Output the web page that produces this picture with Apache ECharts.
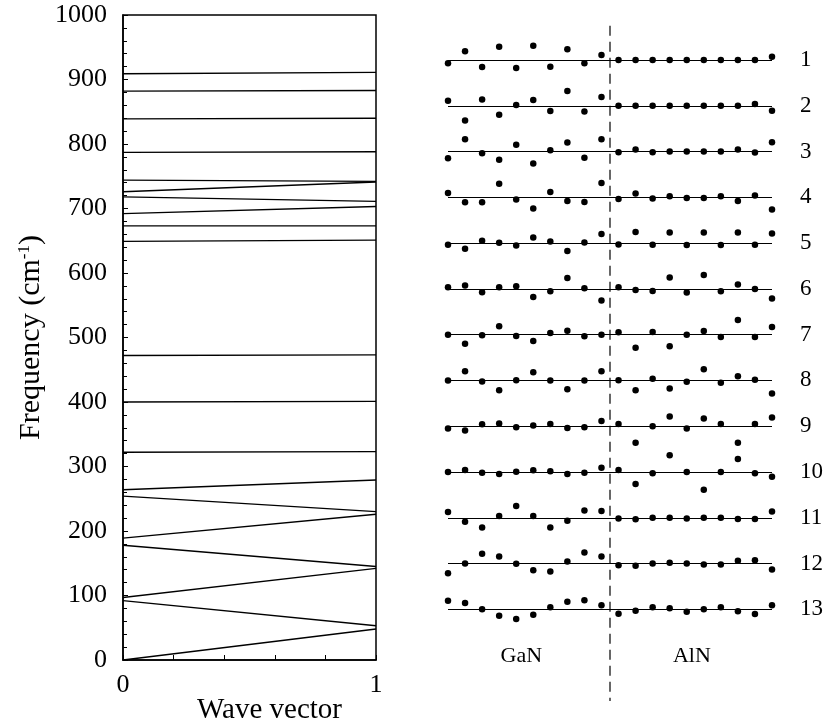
<!DOCTYPE html>
<html>
<head>
<meta charset="UTF-8"/>
<title>GaN/AlN superlattice phonon modes</title>
<script src="https://cdn.jsdelivr.net/npm/echarts@6/dist/echarts.min.js"></script>
<style>
html, body { margin: 0; padding: 0; background: #fff; }
#main { width: 830px; height: 725px; }
</style>
</head>
<body>
<div id="main"></div>
<script>
// dispersion: frequency (cm-1) of each branch at wave vector 0 and at 1
var waveVector = [0, 1];
var branchAt0 = [0, 92, 97, 178, 189, 254, 264, 322, 400, 472, 649, 673, 692, 718, 726, 744, 787, 839, 882, 909];
var branchAt1 = [48, 53, 142, 145, 226, 230, 279, 323, 401, 473, 651, 673, 703, 711, 741, 742, 788, 840, 883, 911];
var waveTickLabels = ['0', '1'];

// displacement patterns, modes 1..13, 10 atoms in each layer (up = positive)
var modeNames = ['1', '2', '3', '4', '5', '6', '7', '8', '9', '10', '11', '12', '13'];
var layerNames = ['GaN', 'AlN'];
var ganAmp = [
  [-3.3, 8.7, -7, 13.3, -8, 14.3, -6.7, 10.7, -3.3, 5],
  [5, -14.7, 6.3, -9, 0.7, 5.7, -5.3, 14.7, -5.7, 8.7],
  [-6.7, 12.3, -1.7, -8.3, 6.7, -12, 1.3, 9, -6.3, 12.3],
  [4.3, -5, -5, 13.7, -2.3, -11.3, 5.3, -3.7, -4.7, 14.3],
  [-1.7, -5.7, 2.3, 0.3, -2.3, 5.7, 1.7, -8, 0.7, 9],
  [1.7, 3.3, -3.3, 1.7, 2.7, -8, -2.3, 11, 0.7, -11.7],
  [0, -9, -0.7, 8.3, -1.3, -6.3, 1.7, 4, -1.7, 0],
  [0, 9.3, -1, -9.7, 0.3, 8.3, 0, -8.7, 0, 9.3],
  [-2.3, -4.3, 2, 2.7, -1, 0.7, 2.3, -1.7, -1, 5.3],
  [0, 2, -0.7, -2, 0.3, 1.7, 0.7, -2, -0.7, 4.3],
  [5.7, -4, -9.7, 1.7, 11.7, 1.7, -9.7, -3, 7.3, 6.7],
  [-9.7, 0, 9.7, 7, -0.3, -6.7, -8, 2, 11, 7],
  [8.7, 6.3, 0, -6.3, -9.7, -5.3, 2, 7.7, 9, 4]
];
var alnAmp = [
  [0, 0, 0, 0, 0, 0, 0, 0, 0, 3.3],
  [0, 0, 0, 0, 0, 0, 0, 0, 1.7, -5],
  [-0.7, 2, -0.7, 0, 0, 0, 0, 2, -1, 9.3],
  [-1.7, 3.7, -1.3, 1, -0.7, -0.7, 1, -3.7, 1.7, -12.3],
  [-1.3, 11, -1.7, 10.7, -2, 10.7, -2, 10.7, -1.7, 9.7],
  [1.7, -1, -2, 11.3, -3.7, 14, -2.3, 4.3, 0, -9.7],
  [2.3, -13, 2.7, -11.7, 0, 3.7, -2.3, 14.7, -2.3, 7.7],
  [0.3, -9.7, 1.7, -8, -1.3, 11.3, -2.3, 4.3, 0.7, -13],
  [2.2, -16.5, 0, 9.8, -2.2, 7.8, 2.2, -16.5, 2.2, 8.8],
  [2, -12, -1.3, 16.7, 0, -17.7, 0, 13, -1.3, -4.7],
  [-0.7, -1.5, 0, 0, -0.7, 0, 0, -1.3, -1.3, 6.3],
  [-1.7, -2.3, 0, 0.7, 0, -1, -1, 2.7, 3.3, -6],
  [-4.5, -1.5, 2, 1, -2.3, 0, 2, -2, -4.7, 4]
];

var AMP_TO_ROW = 1 / 45.8;
var serif = '"Liberation Serif", "DejaVu Serif", serif';
var ink = '#000';

var chart = echarts.init(document.getElementById('main'));

var series = [];
branchAt0.forEach(function (f0, i) {
  series.push({
    type: 'line', xAxisIndex: 0, yAxisIndex: 0,
    data: [[waveVector[0], f0], [waveVector[1], branchAt1[i]]],
    symbol: 'none', silent: true,
    lineStyle: { color: ink, width: 1.4 }
  });
});

var dots = [];
var nAtoms = ganAmp[0].length;
modeNames.forEach(function (name, r) {
  var amps = ganAmp[r].concat(alnAmp[r]);
  amps.forEach(function (a, i) {
    dots.push([i, (r + 1) - a * AMP_TO_ROW]);
  });
});
var lastAtom = 2 * nAtoms - 1;

series.push({
  type: 'scatter', xAxisIndex: 1, yAxisIndex: 1,
  data: dots, symbolSize: 6.5, clip: false, silent: true,
  itemStyle: { color: ink, opacity: 1 },
  markLine: {
    silent: true, symbol: 'none', animation: false,
    label: { show: false },
    lineStyle: { color: ink, width: 1, type: 'solid', opacity: 1 },
    data: modeNames.map(function (n, r) { return { yAxis: r + 1 }; })
  }
});

// GaN | AlN divider
series.push({
  type: 'line', xAxisIndex: 1, yAxisIndex: 1,
  data: [[nAtoms - 0.5, 0.25], [nAtoms - 0.5, 15]],
  symbol: 'none', silent: true,
  lineStyle: { color: ink, width: 1.2, type: [10, 6] }
});

series.push({
  type: 'scatter', xAxisIndex: 1, yAxisIndex: 1,
  data: layerNames.map(function (n, k) { return { name: n, value: [k * nAtoms + (nAtoms - 1) / 2 - 0.2, 14.02] }; }),
  symbolSize: 0, silent: true,
  itemStyle: { color: ink, opacity: 1 },
  label: {
    show: true, position: 'inside', formatter: '{b}', fontFamily: serif, fontSize: 22,
    color: ink, opacity: 1, textBorderWidth: 0, textBorderColor: 'transparent'
  }
});

var option = {
  animation: false,
  backgroundColor: '#fff',
  grid: [
    { left: 123, top: 15, width: 253, height: 645, show: true, borderColor: ink, borderWidth: 1.5, outerBoundsMode: 'none', containLabel: false },
    { left: 448, top: 14.2, width: 324, height: 686.7, outerBoundsMode: 'none', containLabel: false }
  ],
  xAxis: [
    {
      gridIndex: 0, type: 'value', min: 0, max: 1, interval: 0.2,
      name: 'Wave vector', nameLocation: 'middle', nameGap: 36, nameMoveOverlap: false,
      nameTextStyle: { fontFamily: serif, fontSize: 29, color: ink, padding: [0, 0, 0, 40] },
      axisLine: { lineStyle: { color: ink, width: 1.5 } },
      axisTick: { inside: true, length: 5, lineStyle: { color: ink } },
      axisLabel: {
        margin: 12, fontFamily: serif, fontSize: 26, color: ink,
        formatter: function (v) { return v === 0 ? waveTickLabels[0] : (v === 1 ? waveTickLabels[1] : ''); }
      },
      splitLine: { show: false }
    },
    { gridIndex: 1, type: 'value', min: 0, max: lastAtom, show: false }
  ],
  yAxis: [
    {
      gridIndex: 0, type: 'value', min: 0, max: 1000, interval: 100,
      name: 'Frequency (cm{sup|-1})', nameLocation: 'middle', nameGap: 76, nameRotate: 90, nameMoveOverlap: false,
      nameTextStyle: {
        fontFamily: serif, fontSize: 30, color: ink,
        rich: { sup: { fontFamily: serif, fontSize: 17, color: ink, padding: [0, 0, 14, 0] } }
      },
      axisLine: { lineStyle: { color: ink, width: 1.5 } },
      axisTick: { inside: true, length: 5, lineStyle: { color: ink } },
      minorTick: { show: true, splitNumber: 5, length: 4, lineStyle: { color: ink } },
      axisLabel: {
        margin: 16, fontFamily: serif, fontSize: 26, color: ink,
        formatter: function (v) { return String(v); }
      },
      splitLine: { show: false }
    },
    {
      gridIndex: 1, type: 'value', min: 0, max: 15, interval: 1, inverse: true, position: 'right',
      axisLine: { show: false }, axisTick: { show: false }, splitLine: { show: false },
      axisLabel: {
        margin: 28, align: 'left', fontFamily: serif, fontSize: 23, color: ink,
        formatter: function (v) { return modeNames[v - 1] || ''; }
      }
    }
  ],
  series: series
};
chart.setOption(option);
</script>
</body>
</html>
